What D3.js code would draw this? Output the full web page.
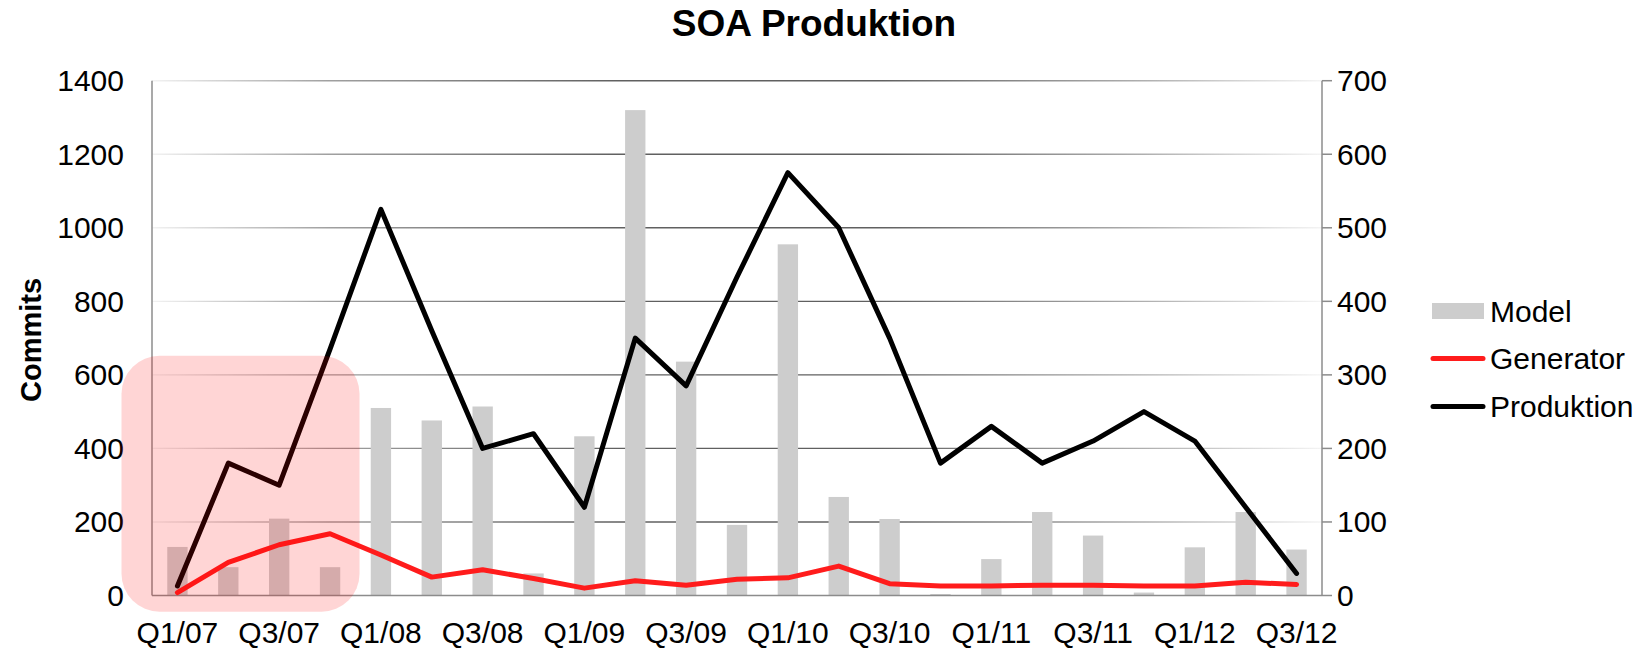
<!DOCTYPE html>
<html>
<head>
<meta charset="utf-8">
<script src="https://cdn.jsdelivr.net/npm/d3@7"></script>
<style>
  body { margin: 0; background: #fff; }
  text { font-family: "Liberation Sans", Arial, sans-serif; fill: #000; }
</style>
</head>
<body>
<script>
//-----------------------------DATA------------------------------//
const quarters = ["Q1/07","Q2/07","Q3/07","Q4/07","Q1/08","Q2/08","Q3/08","Q4/08",
  "Q1/09","Q2/09","Q3/09","Q4/09","Q1/10","Q2/10","Q3/10","Q4/10",
  "Q1/11","Q2/11","Q3/11","Q4/11","Q1/12","Q2/12","Q3/12"];
// Model commits (left axis)
const model = [132, 77, 209, 77, 510, 476, 514, 60, 433, 1320, 636, 192,
  955, 268, 208, 4, 99, 227, 163, 8, 131, 227, 125];
// Generator and Produktion (right axis)
const generator = [4, 45, 69, 84, 55, 25, 35, 23, 10, 20, 14, 22,
  24, 40, 16, 13, 13, 14, 14, 13, 13, 18, 15];
const produktion = [13, 180, 150, 335, 525, 360, 200, 220, 120, 350, 285, 433,
  575, 500, 350, 180, 230, 180, 210, 250, 210, 120, 30];
const leftTicks = [0, 200, 400, 600, 800, 1000, 1200, 1400];
const rightTicks = [0, 100, 200, 300, 400, 500, 600, 700];
const xLabels = ["Q1/07","Q3/07","Q1/08","Q3/08","Q1/09","Q3/09","Q1/10","Q3/10","Q1/11","Q3/11","Q1/12","Q3/12"];
const highlight = ["Q1/07", "Q4/07"];

const width = 1643;
const height = 651;
const plotLeft = 152, plotRight = 1322, plotTop = 80.7, plotBottom = 595.5;

const svg = d3.select("body").append("svg")
  .attr("width", width).attr("height", height);

svg.append("rect").attr("width", width).attr("height", height).attr("fill", "#fff");

//----------------------------SCALES-----------------------------//
const xScale = d3.scaleBand().domain(quarters).range([plotLeft, plotRight])
  .paddingInner(0.6).paddingOuter(0.3);
const yLeft = d3.scaleLinear().domain([0, 1400]).range([plotBottom, plotTop]);
const yRight = d3.scaleLinear().domain([0, 700]).range([plotBottom, plotTop]);
const cx = function(q) { return xScale(q) + xScale.bandwidth() / 2; };

//----------------------------GRID------------------------------//
const grad = svg.append("defs").append("linearGradient")
  .attr("id", "gridfade").attr("gradientUnits", "userSpaceOnUse")
  .attr("x1", plotLeft).attr("x2", plotRight).attr("y1", 0).attr("y2", 0);
[[0, "#f2f2f2"], [0.15, "#a0a0a0"], [0.4, "#606060"], [0.62, "#606060"], [0.85, "#b0b0b0"], [1, "#f4f4f4"]]
  .forEach(function(s) {
    grad.append("stop").attr("offset", s[0]).attr("stop-color", s[1]);
  });

svg.append("g").selectAll("line").data(leftTicks.slice(1)).enter().append("line")
  .attr("x1", plotLeft).attr("x2", plotRight)
  .attr("y1", function(d) { return yLeft(d); })
  .attr("y2", function(d) { return yLeft(d); })
  .attr("stroke", "url(#gridfade)").attr("stroke-width", 1.4);

//-----------------------------BARS------------------------------//
svg.append("g").selectAll("rect").data(model).enter().append("rect")
  .attr("x", function(d, i) { return xScale(quarters[i]); })
  .attr("y", function(d) { return yLeft(d); })
  .attr("width", xScale.bandwidth())
  .attr("height", function(d) { return plotBottom - yLeft(d); })
  .attr("fill", "#cdcdcd");

//-----------------------------AXES------------------------------//
const axisG = svg.append("g").attr("stroke", "#8c8c8c").attr("stroke-width", 1.5);
axisG.append("line").attr("x1", plotLeft).attr("x2", plotLeft).attr("y1", plotTop).attr("y2", plotBottom);
axisG.append("line").attr("x1", plotRight).attr("x2", plotRight).attr("y1", plotTop).attr("y2", plotBottom);
axisG.append("line").attr("x1", plotLeft).attr("x2", plotRight).attr("y1", plotBottom).attr("y2", plotBottom);
axisG.selectAll(".rtick").data(rightTicks).enter().append("line")
  .attr("x1", plotRight).attr("x2", plotRight + 10)
  .attr("y1", function(d) { return yRight(d); })
  .attr("y2", function(d) { return yRight(d); });

svg.append("g").selectAll("text").data(leftTicks).enter().append("text")
  .attr("x", 124).attr("y", function(d) { return yLeft(d) + 10.5; })
  .attr("text-anchor", "end").attr("font-size", 30)
  .text(function(d) { return d; });

svg.append("g").selectAll("text").data(rightTicks).enter().append("text")
  .attr("x", 1337).attr("y", function(d) { return yRight(d) + 10.5; })
  .attr("text-anchor", "start").attr("font-size", 30)
  .text(function(d) { return d; });

svg.append("g").selectAll("text").data(xLabels).enter().append("text")
  .attr("x", function(d) { return cx(d); }).attr("y", 643)
  .attr("text-anchor", "middle").attr("font-size", 30)
  .text(function(d) { return d; });

//----------------------------LINES------------------------------//
const line = d3.line()
  .x(function(d, i) { return cx(quarters[i]); })
  .y(function(d) { return yRight(d); });

svg.append("path").datum(produktion).attr("d", line)
  .attr("fill", "none").attr("stroke", "#000").attr("stroke-width", 5)
  .attr("stroke-linejoin", "round").attr("stroke-linecap", "round");

svg.append("path").datum(generator).attr("d", line)
  .attr("fill", "none").attr("stroke", "#ff1c1c").attr("stroke-width", 5)
  .attr("stroke-linejoin", "round").attr("stroke-linecap", "round");

//---------------------------HIGHLIGHT---------------------------//
const hx0 = xScale(highlight[0]) - xScale.step() * 0.9;
const hx1 = xScale(highlight[1]) + xScale.bandwidth() + xScale.step() * 0.38;
svg.append("rect")
  .attr("x", hx0).attr("y", yLeft(652))
  .attr("width", hx1 - hx0).attr("height", yLeft(-44) - yLeft(652))
  .attr("rx", 38).attr("ry", 38)
  .attr("fill", "rgb(255,0,0)").attr("fill-opacity", 0.165);

//----------------------------TITLES------------------------------//
svg.append("text").attr("x", 814).attr("y", 36)
  .attr("text-anchor", "middle").attr("font-size", 37).attr("font-weight", "bold")
  .text("SOA Produktion");

svg.append("text").attr("transform", "translate(41,340) rotate(-90)")
  .attr("text-anchor", "middle").attr("font-size", 29).attr("font-weight", "bold")
  .text("Commits");

//----------------------------LEGEND------------------------------//
const legend = svg.append("g").attr("transform", "translate(1431,0)");
legend.append("rect").attr("x", 1).attr("y", 303).attr("width", 52).attr("height", 16)
  .attr("fill", "#cdcdcd");
legend.append("line").attr("x1", 2).attr("x2", 52).attr("y1", 358.5).attr("y2", 358.5)
  .attr("stroke", "#ff1c1c").attr("stroke-width", 5).attr("stroke-linecap", "round");
legend.append("line").attr("x1", 2).attr("x2", 52).attr("y1", 406.5).attr("y2", 406.5)
  .attr("stroke", "#000").attr("stroke-width", 5).attr("stroke-linecap", "round");
[["Model", 321.5], ["Generator", 369], ["Produktion", 417]].forEach(function(l) {
  legend.append("text").attr("x", 59).attr("y", l[1]).attr("font-size", 30).text(l[0]);
});
</script>
</body>
</html>
